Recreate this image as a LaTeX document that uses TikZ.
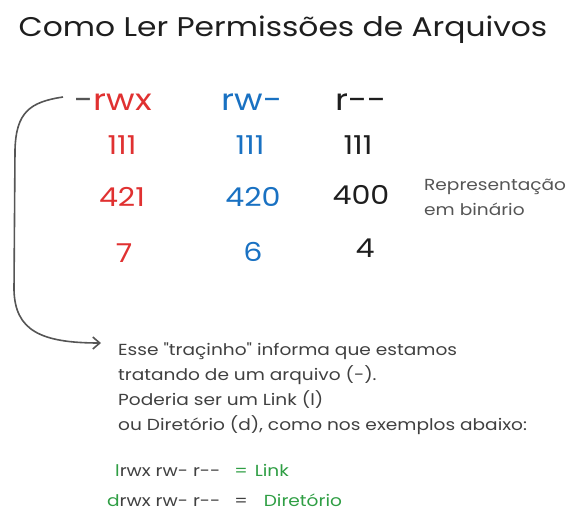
\documentclass[tikz,border=0pt]{standalone}
\usepackage{fontspec}
\setmainfont{Poppins}[FakeStretch=1.16]
\newfontfamily\plainq{Poppins}[FakeStretch=1.16]
\usetikzlibrary{arrows.meta}
\definecolor{cred}{HTML}{E03131}
\definecolor{cblue}{HTML}{1971C2}
\definecolor{cgreen}{HTML}{2F9E44}
\definecolor{cblack}{HTML}{1E1E1E}
\definecolor{cgray}{HTML}{555555}
\begin{document}
\begin{tikzpicture}[x=1pt,y=-1pt,
  big/.style={font=\fontsize{30}{30}\selectfont, inner sep=0pt},
  num/.style={font=\fontsize{26}{30}\selectfont, inner sep=0pt},
  small/.style={font=\fontsize{16}{25}\selectfont, inner sep=0pt, text=cblack!85, align=left},
  conn/.style={draw=cgray, line width=1.6pt, -{Straight Barb[length=7pt,width=12pt]}}]
\useasboundingbox (0,0) rectangle (576,525);
\node[big, text=cblack] (title) at (283,30) {\fontsize{27}{32}\selectfont Como Ler Permissões de Arquivos};
% header row
\node[big, text=cgray, anchor=base west] (dash) at (74,110) {-};
\node[big, text=cred, anchor=base west] (rwx) at (dash.base east) {rwx};
\node[big, text=cblue, anchor=base] (rw) at (252,110) {rw-};
\node[big, text=cblack, anchor=base] (r) at (361,110) {r-{}-};
% rows
\node[num, text=cred] (a1) at (122,145) {111};
\node[num, text=cblue] (b1) at (250,145) {111};
\node[num, text=cblack] (c1) at (358,145) {111};
\node[num, text=cred] (a2) at (122,197) {421};
\node[num, text=cblue] (b2) at (253,197) {420};
\node[num, text=cblack] (c2) at (361,195) {400};
\node[num, text=cred] (a3) at (124,253) {7};
\node[num, text=cblue] (b3) at (253,252) {6};
\node[num, text=cblack] (c3) at (365,248) {4};
\node[small, text=cgray, anchor=west] (rep) at (424,197) {Representação\\em binário};
% body
\node[small, anchor=north west] (body) at (118,343) {Esse {\plainq"}traçinho{\plainq"} informa que estamos\\tratando de um arquivo (-).\\Poderia ser um Link (l)\\ou Diretório (d), como nos exemplos abaixo:};
\node[small, anchor=west] (ex1) at (115,470) {\textcolor{cgreen}{l}rwx rw- r-{}-\hspace{14pt}\textcolor{cgreen}{=\hspace{7pt}Link}};
\node[small, anchor=west] (ex2) at (107,500) {\textcolor{cgreen}{d}rwx rw- r-{}-\hspace{14pt}=\hspace{16pt}\textcolor{cgreen}{Diretório}};
% arrow
\coordinate (s) at (63,97);
\coordinate (e) at (101,343);
\draw[conn] (s) .. controls (30,102) and (16,112) .. (15,150)
  -- (14,290) .. controls (15,330) and (40,343) .. (e);
\end{tikzpicture}
\end{document}
